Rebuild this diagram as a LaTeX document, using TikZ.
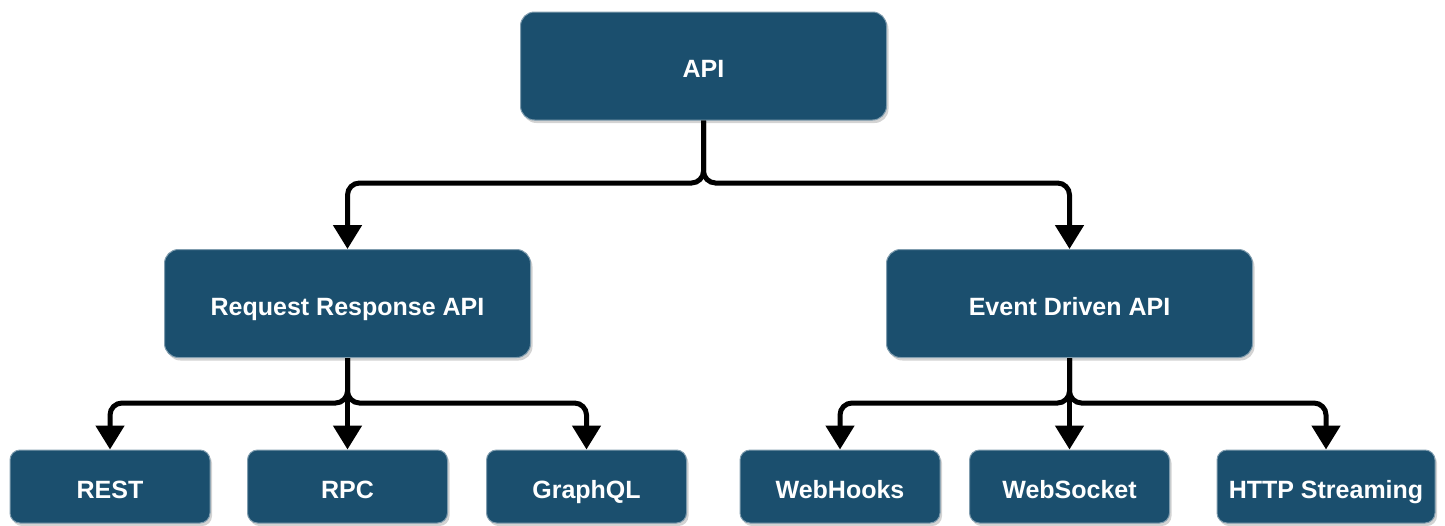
\documentclass[tikz,border=0pt]{standalone}
\usepackage{fontspec}
\setmainfont{Liberation Sans}
\usetikzlibrary{arrows.meta,shadows}
\definecolor{boxfill}{HTML}{1B4F6E}
\definecolor{boxedge}{HTML}{7F9CAE}
\begin{document}
\begin{tikzpicture}[x=1pt,y=-1pt,
  box/.style={draw=boxedge, line width=1pt, fill=boxfill, text=white,
    font=\fontsize{25}{29}\selectfont\bfseries, align=center,
    text height=23pt, text depth=0pt,
    drop shadow={shadow xshift=2pt, shadow yshift=-3pt, opacity=0.35, fill=gray}},
  bigbox/.style={box, rounded corners=14pt, minimum width=366pt, minimum height=108pt},
  smallbox/.style={box, rounded corners=10pt, minimum width=200pt, minimum height=73pt},
  conn/.style={line width=5pt, draw=black, rounded corners=12pt,
    -{Triangle[length=24pt,width=28pt]}}
]
\useasboundingbox (0,0) rectangle (1445,525);
\node[bigbox] (api) at (703.5,66) {API};
\node[bigbox] (rr) at (347.5,303.5) {Request Response API};
\node[bigbox] (ed) at (1069.5,303.5) {Event Driven API};
\node[smallbox] (rest) at (110,486.5) {REST};
\node[smallbox] (rpc) at (347.5,486.5) {RPC};
\node[smallbox] (gql) at (586.5,486.5) {GraphQL};
\node[smallbox] (wh) at (840,486.5) {WebHooks};
\node[smallbox] (ws) at (1069.5,486.5) {WebSocket};
\node[smallbox, minimum width=218pt] (http) at (1326,486.5) {HTTP Streaming};
\coordinate (j1l) at (347.5,183);
\coordinate (j1r) at (1069.5,183);
\coordinate (j2l) at (110,403);
\coordinate (j2r) at (586.5,403);
\coordinate (j3l) at (840,403);
\coordinate (j3r) at (1326,403);
\draw[conn] (api.south) |- (j1l) -- (rr.north);
\draw[conn] (api.south) |- (j1r) -- (ed.north);
\draw[conn] (rr.south) |- (j2l) -- (rest.north);
\draw[conn] (rr.south) |- (j2r) -- (gql.north);
\draw[conn, rounded corners=0pt] (rr.south) -- (rpc.north);
\draw[conn] (ed.south) |- (j3l) -- (wh.north);
\draw[conn] (ed.south) |- (j3r) -- (http.north);
\draw[conn, rounded corners=0pt] (ed.south) -- (ws.north);
\end{tikzpicture}
\end{document}
